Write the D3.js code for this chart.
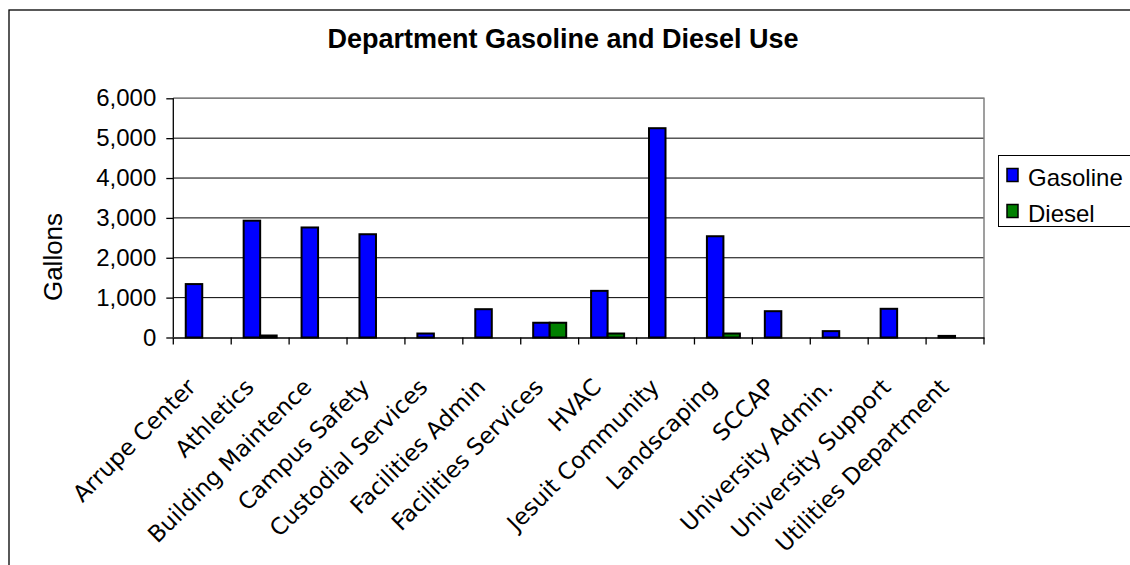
<!DOCTYPE html>
<html>
<head>
<meta charset="utf-8">
<script src="https://cdnjs.cloudflare.com/ajax/libs/d3/7.8.5/d3.min.js"></script>
<style>
  html, body { margin: 0; padding: 0; background: #fff; overflow: hidden; }
  svg { display: block; }
</style>
</head>
<body>
<svg id="chart" width="1130" height="565"></svg>
<script>
const categories = ["Arrupe Center", "Athletics", "Building Maintence", "Campus Safety",
  "Custodial Services", "Facilities Admin", "Facilities Services", "HVAC",
  "Jesuit Community", "Landscaping", "SCCAP", "University Admin.",
  "University Support", "Utilities Department"];
const seriesNames = ["Gasoline", "Diesel"];
const gasoline = [1340, 2930, 2760, 2590, 100, 710, 370, 1170, 5250, 2540, 660, 160, 720, 40];
const diesel   = [0, 50, 0, 0, 0, 0, 370, 100, 0, 100, 0, 0, 0, 0];
const yTicks = [0, 1000, 2000, 3000, 4000, 5000, 6000];
const colors = ["#0000FF", "#008000"];

const svg = d3.select("#chart");
const pLeft = 173.3, pRight = 984, pTop = 98.3, pBottom = 337.5;

// outer chart border (extends beyond viewport)
svg.append("rect").attr("x", 9).attr("y", 10).attr("width", 1200).attr("height", 700)
  .attr("fill", "none").attr("stroke", "#000").attr("stroke-width", 1.3);

// title
svg.append("text").attr("x", 563).attr("y", 48).attr("text-anchor", "middle")
  .attr("font-family", "Liberation Sans, Arial, sans-serif").attr("font-weight", "bold")
  .attr("font-size", 27).text("Department Gasoline and Diesel Use");

const x = d3.scaleBand().domain(categories).range([pLeft, pRight]).padding(0);
const x1 = d3.scaleBand().domain(seriesNames)
  .range([x.bandwidth() * 0.215, x.bandwidth() * 0.785]).padding(0);
const y = d3.scaleLinear().domain([0, 6000]).range([pBottom, pTop]);

// gridlines
svg.append("g").selectAll("line").data(yTicks.filter(d => d > 0)).join("line")
  .attr("x1", pLeft).attr("x2", pRight)
  .attr("y1", d => y(d)).attr("y2", d => y(d))
  .attr("stroke", "#000").attr("stroke-width", 1);

// plot border top/right (gray)
svg.append("path")
  .attr("d", `M${pLeft},${pTop}H${pRight}V${pBottom}`)
  .attr("fill", "none").attr("stroke", "#808080").attr("stroke-width", 1.5);

// bars
const data = categories.map((c, i) => ({ c, vals: [gasoline[i], diesel[i]] }));
const groups = svg.append("g").selectAll("g").data(data).join("g")
  .attr("transform", d => `translate(${x(d.c)},0)`);
groups.selectAll("rect")
  .data(d => d.vals.map((v, j) => ({ v, s: seriesNames[j], j })).filter(e => e.v > 0))
  .join("rect")
  .attr("x", e => x1(e.s))
  .attr("width", x1.bandwidth())
  .attr("y", e => y(e.v))
  .attr("height", e => y(0) - y(e.v))
  .attr("fill", e => colors[e.j])
  .attr("stroke", "#000").attr("stroke-width", 2);

// y axis
const yAxis = d3.axisLeft(y).tickValues(yTicks).tickSize(7).tickPadding(10)
  .tickFormat(d3.format(","));
const gy = svg.append("g").attr("transform", `translate(${pLeft},0)`).call(yAxis);
gy.select(".domain").attr("stroke", "#000").attr("stroke-width", 1.3).attr("d", `M0,${pTop}V${pBottom}`);
gy.selectAll(".tick line").attr("stroke", "#000").attr("stroke-width", 1.3);
gy.selectAll(".tick text").attr("font-family", "Liberation Sans, Arial, sans-serif")
  .attr("font-size", 24).attr("fill", "#000");

// x axis
const xAxis = d3.axisBottom(x).tickSize(0).tickFormat("");
const gx = svg.append("g").attr("transform", `translate(0,${pBottom})`).call(xAxis);
gx.select(".domain").attr("stroke", "#000").attr("stroke-width", 1.5);
gx.selectAll(".tick").remove();
const bounds = categories.map(c => x(c)).concat([pRight]);
gx.selectAll("line.b").data(bounds).join("line").attr("class", "b")
  .attr("x1", d => d).attr("x2", d => d).attr("y1", 0).attr("y2", 7)
  .attr("stroke", "#000").attr("stroke-width", 1.3);

svg.append("g").selectAll("text").data(categories).join("text")
  .attr("transform", d => `translate(${x(d) + x.bandwidth() / 2 - 5},${pBottom + 51}) rotate(-45)`)
  .attr("text-anchor", "end")
  .attr("font-family", "DejaVu Sans, sans-serif").attr("font-size", 23)
  .attr("fill", "#000")
  .text(d => d);

// y axis title
svg.append("text").attr("transform", "translate(61.5,257) rotate(-90)")
  .attr("text-anchor", "middle")
  .attr("font-family", "Liberation Sans, Arial, sans-serif").attr("font-size", 26)
  .text("Gallons");

// legend
const lg = svg.append("g");
lg.append("rect").attr("x", 998.5).attr("y", 155.5).attr("width", 200).attr("height", 71)
  .attr("fill", "#fff").attr("stroke", "#000").attr("stroke-width", 1);
const items = lg.selectAll("g").data(seriesNames).join("g")
  .attr("transform", (d, i) => `translate(1007,${168.5 + i * 36})`);
items.append("rect").attr("width", 11).attr("height", 13)
  .attr("fill", (d, i) => colors[i]).attr("stroke", "#000").attr("stroke-width", 1.5);
items.append("text").attr("x", 21).attr("y", 17)
  .attr("font-family", "Liberation Sans, Arial, sans-serif").attr("font-size", 24)
  .text(d => d);
</script>
</body>
</html>
